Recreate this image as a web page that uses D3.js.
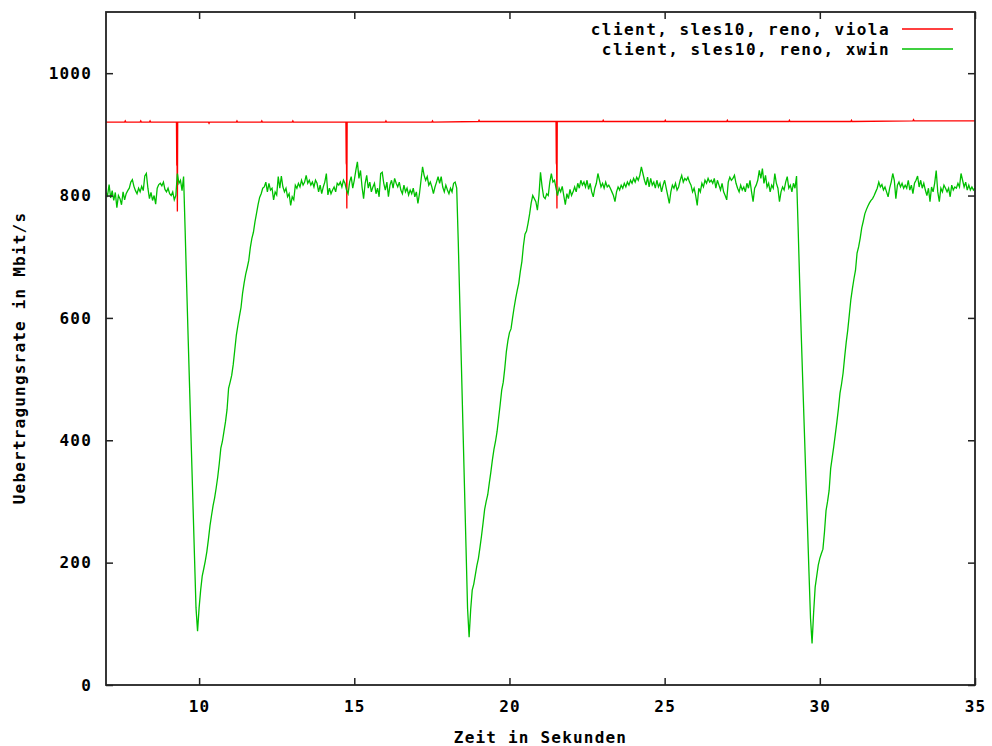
<!DOCTYPE html>
<html><head><meta charset="utf-8">
<script src="https://cdn.jsdelivr.net/npm/d3@7"></script>
<style>
html,body{margin:0;padding:0;background:#fff;}
svg text{font-family:"DejaVu Sans Mono",monospace;font-weight:bold;font-size:16px;letter-spacing:1.2px;fill:#000;}
svg text.legend{letter-spacing:1.45px;}
</style></head><body><svg id="chart" width="992" height="746"></svg>
<script>
const xTicks=[10,15,20,25,30,35];
const yTicks=[0,200,400,600,800,1000];
const seriesNames=["client, sles10, reno, viola","client, sles10, reno, xwin"];
const seriesColors=["#ff0000","#00c000"];
const xTitle="Zeit in Sekunden";
const yTitle="Uebertragungsrate in Mbit/s";

const redSeries=[[7.00,920],[7.60,920],[7.62,922],[7.64,920],[8.10,920],[8.12,922],[8.14,920],[8.40,920],[8.42,922],[8.44,920],
[9.27,920],[9.28,850],[9.29,848],[9.30,774],[9.305,848],[9.31,920],
[10.3,920],[10.32,918],[10.34,920],[11.2,920],[11.22,922],[11.24,920],[12.0,920],[12.02,922],[12.04,920],[13.0,920],[13.02,922],[13.04,920],
[14.73,920],[14.74,853],[14.75,850],[14.76,779],[14.765,850],[14.77,920],
[16.0,920],[16.02,922],[16.04,920],[17.5,920],[17.52,922],[17.54,920],[19.0,921],[19.02,923],[19.04,921],
[21.50,921],[21.51,853],[21.52,850],[21.53,779],[21.535,850],[21.54,921],
[23.0,921],[23.02,923],[23.04,921],[25.0,921],[25.02,923],[25.04,921],[27.0,921],[27.02,923],[27.04,921],[29.0,921],[29.02,923],[29.04,921],
[31.0,921],[31.02,923],[31.04,921],[33.0,922],[33.02,924],[33.04,922],[35.00,922]];

const greenSeries=[
[7.00,805],[7.05,800],[7.10,818],[7.15,796],[7.20,808],[7.25,792],[7.30,805],[7.35,780],[7.40,800],[7.45,795],
[7.50,785],[7.55,806],[7.60,793],[7.65,803],[7.70,808],[7.75,812],[7.80,822],[7.85,826],[7.90,815],[7.95,808],
[8.00,803],[8.05,812],[8.10,806],[8.15,815],[8.20,808],[8.25,832],[8.30,836],[8.35,812],[8.40,795],[8.45,805],
[8.50,792],[8.55,800],[8.60,786],[8.65,812],[8.70,818],[8.75,820],[8.80,816],[8.85,822],[8.90,810],[8.95,806],
[9.00,812],[9.05,803],[9.10,800],[9.15,806],[9.20,793],[9.25,800],[9.30,836],[9.35,820],[9.40,825],[9.45,808],
[9.50,831],[9.55,743],[9.60,651],[9.65,562],[9.70,475],[9.75,387],[9.80,300],[9.85,212],[9.90,126],[9.95,88],
[10.00,126],[10.05,155],[10.10,178],[10.15,190],[10.20,203],[10.25,218],[10.30,238],[10.35,260],[10.40,277],[10.45,293],
[10.50,306],[10.55,322],[10.60,340],[10.65,362],[10.70,387],[10.75,398],[10.80,414],[10.85,430],[10.90,450],[10.95,485],
[11.00,495],[11.05,506],[11.10,524],[11.15,548],[11.20,572],[11.25,588],[11.30,603],[11.35,617],[11.40,640],[11.45,657],
[11.50,671],[11.55,682],[11.60,694],[11.65,715],[11.70,730],[11.75,740],[11.80,757],[11.85,771],[11.90,785],[11.95,797],
[12.00,803],[12.05,812],[12.10,814],[12.15,822],[12.20,806],[12.25,820],[12.30,809],[12.35,812],[12.40,793],[12.45,806],
[12.50,801],[12.55,831],[12.60,812],[12.65,832],[12.70,814],[12.75,806],[12.80,812],[12.85,798],[12.90,803],[12.95,784],
[13.00,798],[13.05,793],[13.10,817],[13.15,812],[13.20,820],[13.25,814],[13.30,825],[13.35,817],[13.40,822],[13.45,833],
[13.50,820],[13.55,825],[13.60,817],[13.65,822],[13.70,814],[13.75,825],[13.80,820],[13.85,806],[13.90,817],[13.95,803],
[14.00,814],[14.05,822],[14.10,836],[14.15,801],[14.20,812],[14.25,803],[14.30,809],[14.35,814],[14.40,806],[14.45,820],
[14.50,817],[14.55,822],[14.60,814],[14.65,825],[14.70,820],[14.75,809],[14.80,803],[14.85,822],[14.90,831],[14.95,812],
[15.00,825],[15.05,841],[15.10,855],[15.15,828],[15.20,841],[15.25,814],[15.30,795],[15.35,820],[15.40,833],[15.45,812],
[15.50,822],[15.55,806],[15.60,814],[15.65,820],[15.70,803],[15.75,812],[15.80,798],[15.85,836],[15.90,838],[15.95,820],
[16.00,809],[16.05,822],[16.10,798],[16.15,817],[16.20,825],[16.25,812],[16.30,828],[16.35,820],[16.40,814],[16.45,822],
[16.50,809],[16.55,803],[16.60,817],[16.65,806],[16.70,812],[16.75,801],[16.80,809],[16.85,803],[16.90,812],[16.95,798],
[17.00,806],[17.05,787],[17.10,803],[17.15,825],[17.20,847],[17.25,833],[17.30,825],[17.35,831],[17.40,817],[17.45,822],
[17.50,814],[17.55,803],[17.60,814],[17.65,822],[17.70,831],[17.75,820],[17.80,831],[17.85,814],[17.90,806],[17.95,817],
[18.00,809],[18.05,803],[18.10,812],[18.15,806],[18.20,820],[18.25,822],
[18.30,812],[18.35,725],[18.40,625],[18.45,525],[18.50,425],[18.55,325],[18.60,225],[18.65,125],[18.70,78],
[18.75,123],[18.80,155],[18.85,165],[18.90,180],[18.95,195],[19.00,207],[19.05,225],[19.10,244],[19.15,265],[19.20,287],
[19.25,300],[19.30,311],[19.35,330],[19.40,348],[19.45,368],[19.50,385],[19.55,398],[19.60,414],[19.65,436],[19.70,458],
[19.75,482],[19.80,495],[19.85,518],[19.90,545],[19.95,563],[20.00,576],[20.05,582],[20.10,600],[20.15,617],[20.20,632],
[20.25,645],[20.30,657],[20.35,676],[20.40,692],[20.45,718],[20.50,737],[20.55,742],[20.60,755],[20.65,770],[20.70,788],
[20.75,800],[20.80,795],[20.85,790],[20.90,776],[20.95,800],[21.00,838],[21.05,815],[21.10,798],[21.15,795],[21.20,803],
[21.25,800],[21.30,822],[21.35,836],[21.40,822],[21.45,825],[21.50,812],[21.55,800],[21.60,812],[21.65,806],[21.70,815],
[21.75,800],[21.80,785],[21.85,803],[21.90,795],[21.95,810],[22.00,800],[22.05,806],[22.10,814],[22.15,806],[22.20,820],
[22.25,812],[22.30,825],[22.35,817],[22.40,822],[22.45,814],[22.50,825],[22.55,810],[22.60,820],[22.65,806],[22.70,798],
[22.75,812],[22.80,820],[22.85,836],[22.90,825],[22.95,814],[23.00,820],[23.05,812],[23.10,822],[23.15,814],[23.20,817],
[23.25,812],[23.30,806],[23.35,800],[23.40,790],[23.45,806],[23.50,814],[23.55,809],[23.60,817],[23.65,812],[23.70,820],
[23.75,814],[23.80,822],[23.85,817],[23.90,825],[23.95,820],[24.00,828],[24.05,822],[24.10,830],[24.15,825],[24.20,833],
[24.25,847],[24.30,836],[24.35,825],[24.40,817],[24.45,830],[24.50,814],[24.55,828],[24.60,817],[24.65,822],[24.70,812],
[24.75,825],[24.80,814],[24.85,820],[24.90,806],[24.95,817],[25.00,825],[25.05,812],[25.10,800],[25.15,787],[25.20,806],
[25.25,817],[25.30,812],[25.35,820],[25.40,809],[25.45,814],[25.50,825],[25.55,833],[25.60,822],[25.65,828],[25.70,825],
[25.75,830],[25.80,822],[25.85,817],[25.90,806],[25.95,812],[26.00,800],[26.05,784],[26.10,812],[26.15,806],[26.20,820],
[26.25,814],[26.30,825],[26.35,820],[26.40,828],[26.45,822],[26.50,825],[26.55,820],[26.60,828],[26.65,812],[26.70,825],
[26.75,817],[26.80,809],[26.85,820],[26.90,806],[26.95,800],[27.00,793],[27.05,822],[27.10,830],[27.15,825],[27.20,828],
[27.25,833],[27.30,820],[27.35,812],[27.40,806],[27.45,817],[27.50,809],[27.55,814],[27.60,806],[27.65,820],[27.70,812],
[27.75,825],[27.80,806],[27.85,790],[27.90,812],[27.95,817],[28.00,825],[28.05,841],[28.10,828],[28.15,844],[28.20,820],
[28.25,833],[28.30,814],[28.35,820],[28.40,806],[28.45,817],[28.50,812],[28.55,836],[28.60,820],[28.65,812],[28.70,790],
[28.75,806],[28.80,814],[28.85,809],[28.90,822],[28.95,831],[29.00,812],[29.05,817],[29.10,806],[29.15,820],[29.20,812],
[29.25,832],[29.30,749],[29.35,660],[29.40,575],[29.45,496],[29.50,418],[29.55,340],[29.60,263],[29.65,185],[29.70,109],
[29.75,68],[29.80,118],[29.85,160],[29.90,178],[29.95,196],[30.00,207],[30.05,215],[30.10,222],[30.15,250],[30.20,285],
[30.25,300],[30.30,318],[30.35,354],[30.40,372],[30.45,390],[30.50,410],[30.55,430],[30.60,452],[30.65,477],[30.70,492],
[30.75,510],[30.80,536],[30.85,560],[30.90,580],[30.95,605],[31.00,630],[31.05,648],[31.10,664],[31.15,678],[31.20,706],
[31.25,716],[31.30,730],[31.35,747],[31.40,758],[31.45,770],[31.50,777],[31.55,783],[31.60,788],[31.65,792],[31.70,795],
[31.75,800],[31.80,806],[31.85,812],[31.90,822],[31.95,814],[32.00,818],[32.05,809],[32.10,814],[32.15,806],[32.20,798],
[32.25,812],[32.30,822],[32.35,836],[32.40,825],[32.45,795],[32.50,817],[32.55,822],[32.60,814],[32.65,820],[32.70,812],
[32.75,817],[32.80,812],[32.85,825],[32.90,809],[32.95,817],[33.00,803],[33.05,820],[33.10,825],[33.15,832],[33.20,814],
[33.25,825],[33.30,812],[33.35,820],[33.40,809],[33.45,800],[33.50,812],[33.55,790],[33.60,814],[33.65,806],[33.70,820],
[33.75,841],[33.80,806],[33.85,790],[33.90,812],[33.95,806],[34.00,817],[34.05,812],[34.10,806],[34.15,812],[34.20,798],
[34.25,817],[34.30,809],[34.35,814],[34.40,812],[34.45,820],[34.50,814],[34.55,836],[34.60,825],[34.65,814],[34.70,822],
[34.75,809],[34.80,817],[34.85,809],[34.90,814],[34.95,809],[35.00,812]];

const svg=d3.select("#chart");
svg.append("rect").attr("width",992).attr("height",746).attr("fill","#fff");
const L=106,R=975,T=12,B=685;
const x=d3.scaleLinear().domain([7,35]).range([L,R]);
const y=d3.scaleLinear().domain([0,1100]).range([B,T]);

const plot=svg.append("g");
plot.append("defs").append("clipPath").attr("id","clip").append("rect")
  .attr("x",L).attr("y",T).attr("width",R-L).attr("height",B-T);

const line=d3.line().x(d=>x(d[0])).y(d=>y(d[1]));
[redSeries,greenSeries].forEach((s,i)=>{
  plot.append("path").datum(s).attr("d",line).attr("fill","none")
    .attr("stroke",seriesColors[i]).attr("stroke-width",1.3).attr("clip-path","url(#clip)");
});

function styleAxis(g){
  g.select(".domain").remove();
  g.selectAll(".tick line").attr("stroke","#222").attr("stroke-width",1.5);
  g.selectAll(".tick text").attr("fill","#000").style("font-family",'"DejaVu Sans Mono",monospace')
    .style("font-size","16px").style("font-weight","bold");
}
svg.append("g").attr("transform",`translate(${L},0)`)
  .call(d3.axisLeft(y).tickValues(yTicks).tickSize(-7).tickPadding(14).tickFormat(d3.format("d"))).call(styleAxis);
svg.append("g").attr("transform",`translate(${R},0)`)
  .call(d3.axisRight(y).tickValues(yTicks).tickSize(-7).tickFormat("")).call(styleAxis);
svg.append("g").attr("transform",`translate(0,${B})`)
  .call(d3.axisBottom(x).tickValues(xTicks).tickSize(-7).tickPadding(16).tickFormat(d3.format("d"))).call(styleAxis);
svg.append("g").attr("transform",`translate(0,${T})`)
  .call(d3.axisTop(x).tickValues(xTicks).tickSize(-7).tickFormat("")).call(styleAxis);

svg.append("rect").attr("x",L).attr("y",T).attr("width",R-L).attr("height",B-T)
  .attr("fill","none").attr("stroke","#222").attr("stroke-width",1.8);

// legend
const legY=[29,49];
seriesNames.forEach((n,i)=>{
  svg.append("text").attr("class","legend").attr("x",890).attr("y",legY[i]+6).attr("text-anchor","end").text(n);
  svg.append("line").attr("x1",902).attr("x2",953).attr("y1",legY[i]).attr("y2",legY[i])
    .attr("stroke",seriesColors[i]).attr("stroke-width",1.5);
});

svg.append("text").attr("x",(L+R)/2).attr("y",743).attr("text-anchor","middle").text(xTitle);
svg.append("text").attr("transform","translate(25,358) rotate(-90)").attr("text-anchor","middle").text(yTitle);
</script></body></html>
